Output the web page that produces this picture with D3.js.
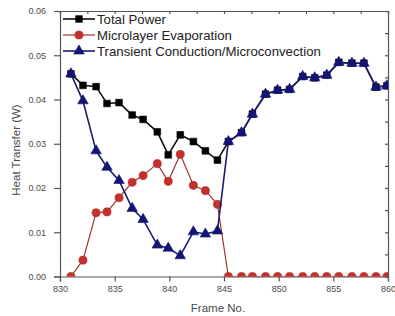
<!DOCTYPE html>
<html lang="en">
<head>
    <meta charset="UTF-8">
    <title>Heat Transfer</title>
    <style>
        body { margin: 0; background: #fff; }
        svg { display: block; font-family: Arial, "Liberation Sans", sans-serif; }
    </style>
</head>
<body>
    <div class="vis"><svg width="395" height="316"></svg></div>
    <script src="https://cdnjs.cloudflare.com/ajax/libs/d3/7.8.5/d3.min.js"></script>
    <script>
        // frame positions of the samples
        var frames = [831.0, 832.1, 833.3, 834.3, 835.4, 836.6, 837.6, 838.9, 839.9, 841.0,
                      842.2, 843.3, 844.4, 845.4, 846.6, 847.6, 848.8, 849.9, 851.0, 852.2,
                      853.3, 854.4, 855.5, 856.7, 857.8, 858.9, 859.9];

        var totalPower = [0.0458, 0.0432, 0.0429, 0.0391, 0.0393, 0.0365, 0.0355, 0.0327, 0.0275, 0.0320,
                          0.0305, 0.0284, 0.0263, 0.0305, 0.0325, 0.0367, 0.0412, 0.0421, 0.0423, 0.0452,
                          0.0449, 0.0455, 0.0484, 0.0482, 0.0482, 0.0428, 0.0431];

        var microlayer = [0.0000, 0.0037, 0.0144, 0.0146, 0.0178, 0.0213, 0.0228, 0.0255, 0.0215, 0.0276,
                          0.0206, 0.0194, 0.0163, 0.0000, 0.0000, 0.0000, 0.0000, 0.0000, 0.0000, 0.0000,
                          0.0000, 0.0000, 0.0000, 0.0000, 0.0000, 0.0000, 0.0000];

        var transient = [0.0458, 0.0397, 0.0284, 0.0247, 0.0217, 0.0154, 0.0129, 0.0071, 0.0064, 0.0047,
                         0.0101, 0.0096, 0.0103, 0.0305, 0.0325, 0.0367, 0.0412, 0.0421, 0.0423, 0.0452,
                         0.0449, 0.0455, 0.0484, 0.0482, 0.0482, 0.0428, 0.0431];

        var seriesNames = ["Total Power", "Microlayer Evaporation", "Transient Conduction/Microconvection"];
        var xTicks = [830, 835, 840, 845, 850, 855, 860];
        var yTicks = [0.00, 0.01, 0.02, 0.03, 0.04, 0.05, 0.06];

        var svg = d3.select('.vis svg');
        var margin = {left: 60, right: 7, top: 11, bottom: 39.5};
        var w = 395, h = 316;

        var xScale = d3.scaleLinear().domain([830, 860]).range([margin.left, w - margin.right]);
        var yScale = d3.scaleLinear().domain([0, 0.06]).range([h - margin.bottom, margin.top]);

        var axisColor = '#555555';
        var textColor = '#4a4a4a';

        svg.append('clipPath').attr('id', 'plotclip')
            .append('rect')
            .attr('x', margin.left).attr('y', margin.top)
            .attr('width', w - margin.left - margin.right)
            .attr('height', h - margin.top - margin.bottom);

        // axes
        var minorX = d3.range(830, 860.1, 2.5);
        var minorY = d3.range(0, 0.0601, 0.005);

        var axisBottomG = svg.append('g').attr('transform', `translate(0, ${yScale(0)})`);
        axisBottomG.call(d3.axisBottom(xScale).tickValues(minorX).tickSize(3).tickFormat(''));
        axisBottomG.call(d3.axisBottom(xScale).tickValues(xTicks).tickSize(5).tickPadding(4).tickFormat(d3.format('d')));

        var axisLeftG = svg.append('g').attr('transform', `translate(${xScale(830)}, 0)`);
        axisLeftG.call(d3.axisLeft(yScale).tickValues(minorY).tickSize(3).tickFormat(''));
        axisLeftG.call(d3.axisLeft(yScale).tickValues(yTicks).tickSize(6).tickPadding(8).tickFormat(d3.format('.2f')));

        var axisTopG = svg.append('g').attr('transform', `translate(0, ${yScale(0.06)})`);
        axisTopG.call(d3.axisBottom(xScale).tickValues(minorX).tickSize(3).tickFormat(''));

        var axisRightG = svg.append('g').attr('transform', `translate(${xScale(860)}, 0)`);
        axisRightG.call(d3.axisLeft(yScale).tickValues(minorY).tickSize(3).tickFormat(''));

        svg.selectAll('.domain, .tick line').attr('stroke', axisColor).attr('stroke-width', 1.2);
        svg.selectAll('.tick text').attr('fill', textColor).attr('font-size', 9)
            .attr('font-family', 'Arial, "Liberation Sans", sans-serif');

        // axis titles
        svg.append('text')
            .attr('transform', 'translate(20, 150) rotate(-90)')
            .attr('text-anchor', 'middle')
            .attr('font-size', 11.5)
            .attr('fill', textColor)
            .text('Heat Transfer (W)');

        svg.append('text')
            .attr('x', 218).attr('y', 312)
            .attr('text-anchor', 'middle')
            .attr('font-size', 11.5)
            .attr('fill', textColor)
            .text('Frame No.');

        // series
        var series = [
            {name: seriesNames[0], values: totalPower, line: '#111111', fill: '#000000', stroke: '#000000', symbol: d3.symbolSquare, size: 45, lw: 1.6},
            {name: seriesNames[1], values: microlayer, line: '#9a3a36', fill: '#c4302b', stroke: '#b02a26', symbol: d3.symbolCircle, size: 52, lw: 1.2},
            {name: seriesNames[2], values: transient, line: '#1c1c6e', fill: '#141478', stroke: '#141478', symbol: d3.symbolTriangle, size: 48, lw: 1.6}
        ];

        var plot = svg.append('g').attr('clip-path', 'url(#plotclip)');

        series.forEach(function (s) {
            var pts = frames.map((f, i) => [f, s.values[i]]);
            var line = d3.line().x(d => xScale(d[0])).y(d => yScale(d[1]));
            plot.append('path')
                .attr('d', line(pts))
                .attr('fill', 'none')
                .attr('stroke', s.line)
                .attr('stroke-width', s.lw);
            plot.selectAll(null)
                .data(pts)
                .enter()
                .append('path')
                .attr('d', d3.symbol().type(s.symbol).size(s.size))
                .attr('transform', d => `translate(${xScale(d[0])}, ${yScale(d[1])})`)
                .attr('fill', s.fill)
                .attr('stroke', s.stroke)
                .attr('stroke-width', 0.6);
        });

        // legend
        var legend = svg.append('g').attr('transform', 'translate(63, 19)');
        series.forEach(function (s, i) {
            var g = legend.append('g').attr('transform', `translate(0, ${i * 16})`);
            g.append('line')
                .attr('x1', 0).attr('x2', 32)
                .attr('stroke', s.line).attr('stroke-width', s.lw);
            g.append('path')
                .attr('d', d3.symbol().type(s.symbol).size(s.size))
                .attr('transform', 'translate(16, 0)')
                .attr('fill', s.fill)
                .attr('stroke', s.stroke)
                .attr('stroke-width', 0.6);
            g.append('text')
                .attr('x', 34).attr('y', 4.5)
                .attr('font-size', 13.2)
                .attr('fill', '#222222')
                .text(s.name);
        });
    </script>
</body>
</html>
